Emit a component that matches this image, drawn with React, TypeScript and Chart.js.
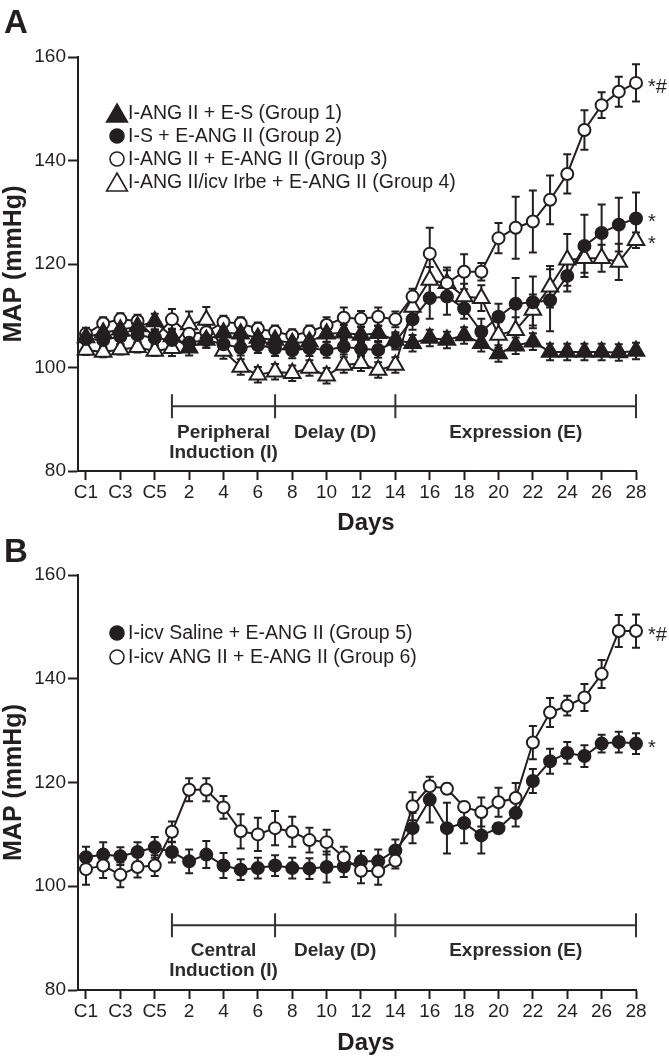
import React, { useEffect, useRef } from 'react';
import { Chart, registerables } from 'chart.js';

Chart.register(...registerables);

// ---------- data ----------
const categories = [
  'C1', 'C2', 'C3', 'C4', 'C5',
  '1', '2', '3', '4', '5', '6', '7', '8', '9', '10', '11', '12', '13', '14',
  '15', '16', '17', '18', '19', '20', '21', '22', '23', '24', '25', '26', '27', '28',
];
const xTickIndices = [0, 2, 4, 6, 8, 10, 12, 14, 16, 18, 20, 22, 24, 26, 28, 30, 32];
const yTickValues = [80, 100, 120, 140, 160];

// Panel A
const g1Label = 'I-ANG II + E-S (Group 1)';
const g1Values = [105.8, 106.7, 107.3, 107.9, 108.9, 106.0, 103.8, 105.3, 106.7, 106.5, 105.7, 105.3, 104.7, 105.0, 106.5, 106.7, 106.3, 106.6, 105.3, 104.7, 105.7, 105.3, 106.2, 104.7, 102.7, 104.2, 105.0, 103.0, 103.0, 103.0, 103.0, 102.9, 103.2];
const g1Errors = [1.5, 1.5, 1.5, 1.5, 1.5, 1.5, 1.5, 1.5, 1.5, 1.5, 1.5, 1.5, 1.5, 1.5, 1.5, 1.5, 1.5, 1.5, 1.5, 1.6, 1.6, 1.6, 1.6, 1.6, 1.6, 1.6, 1.6, 1.6, 1.6, 1.6, 1.6, 1.6, 1.6];

const g2Label = 'I-S + E-ANG II (Group 2)';
const g2Values = [105.5, 105.3, 106.0, 106.3, 105.7, 105.3, 104.8, 105.3, 104.5, 103.8, 104.3, 103.7, 103.3, 103.7, 103.4, 104.0, 103.6, 103.4, 105.0, 109.3, 113.4, 113.7, 111.4, 106.9, 109.8, 112.3, 112.6, 113.0, 117.7, 123.5, 126.0, 127.6, 128.8];
const g2Errors = [1.5, 1.5, 1.5, 1.5, 1.5, 1.5, 1.5, 1.5, 1.5, 1.5, 1.5, 1.5, 1.5, 1.5, 1.5, 1.5, 1.5, 1.5, 1.5, 2.0, 4.0, 3.5, 2.0, 2.5, 2.5, 5.0, 5.0, 6.0, 3.0, 6.0, 5.5, 5.2, 5.0];

const g3Label = 'I-ANG II + E-ANG II (Group 3)';
const g3Values = [106.5, 108.5, 109.3, 109.0, 105.8, 109.3, 106.5, 106.8, 108.8, 108.5, 107.5, 106.9, 106.2, 106.9, 108.2, 109.6, 109.4, 109.8, 109.3, 113.7, 122.0, 116.3, 118.5, 118.5, 125.0, 127.0, 128.2, 132.4, 137.4, 145.9, 150.7, 153.3, 155.0];
const g3Errors = [1.2, 1.2, 1.2, 1.2, 1.2, 2.0, 1.5, 1.5, 1.2, 1.2, 1.2, 1.2, 1.2, 1.2, 1.5, 2.0, 1.5, 1.8, 1.5, 1.5, 5.0, 3.0, 3.4, 1.7, 2.9, 6.0, 6.0, 4.7, 3.8, 3.8, 2.5, 2.9, 3.6];

const g4Label = 'I-ANG II/icv Irbe + E-ANG II (Group 4)';
const g4Values = [103.4, 103.0, 103.5, 103.9, 103.2, 103.7, 108.3, 109.2, 103.2, 100.1, 98.6, 99.2, 98.9, 99.9, 98.4, 100.5, 100.8, 99.5, 100.5, 111.7, 116.9, 116.3, 113.7, 113.4, 106.3, 107.2, 111.1, 115.6, 120.8, 121.1, 121.1, 120.4, 124.6];
const g4Errors = [1.0, 1.0, 1.0, 1.0, 1.0, 1.5, 2.5, 2.5, 1.5, 1.5, 1.5, 1.5, 1.5, 1.5, 1.5, 1.5, 1.5, 1.5, 1.5, 2.0, 2.5, 2.5, 2.5, 2.5, 2.5, 2.5, 3.0, 4.0, 5.0, 2.8, 2.6, 3.5, 1.5];

// Panel B
const g5Label = 'I-icv Saline + E-ANG II (Group 5)';
const g5Values = [105.6, 106.1, 105.8, 106.6, 107.5, 106.6, 104.8, 106.1, 104.0, 103.2, 103.5, 104.0, 103.5, 103.4, 103.7, 103.8, 104.8, 104.8, 106.9, 111.2, 116.7, 111.2, 112.2, 109.8, 111.2, 114.1, 120.3, 124.1, 125.7, 125.1, 127.5, 127.8, 127.5];
const g5Errors = [2.0, 2.4, 1.7, 1.9, 2.0, 2.0, 2.3, 2.6, 2.4, 2.0, 2.0, 2.0, 2.0, 2.0, 3.0, 2.0, 2.0, 2.3, 2.1, 2.9, 4.4, 4.9, 3.9, 3.5, 1.0, 2.6, 2.3, 2.4, 2.1, 2.1, 1.7, 2.0, 2.0];

const g6Label = 'I-icv ANG II + E-ANG II (Group 6)';
const g6Values = [103.3, 104.0, 102.2, 103.7, 104.0, 110.5, 118.6, 118.6, 115.2, 110.6, 110.0, 111.2, 110.5, 108.9, 108.5, 105.6, 103.0, 102.9, 104.9, 115.4, 119.3, 118.8, 115.3, 114.3, 116.2, 117.0, 127.7, 133.5, 134.8, 136.4, 140.9, 149.2, 149.2];
const g6Errors = [3.0, 2.4, 2.4, 2.0, 2.0, 2.0, 2.2, 2.2, 2.2, 3.3, 3.2, 3.3, 2.9, 2.4, 2.4, 2.0, 2.4, 2.6, 1.5, 2.7, 1.0, 1.0, 1.0, 2.8, 2.8, 2.9, 3.2, 2.8, 1.9, 2.6, 2.7, 3.1, 3.2];

// phases: indices of day 1, day 7, day 14, day 28
const phaseBounds = [5, 11, 18, 32];
const phaseLabelsA = [['Peripheral', 'Induction (I)'], ['Delay (D)'], ['Expression (E)']];
const phaseLabelsB = [['Central', 'Induction (I)'], ['Delay (D)'], ['Expression (E)']];

// ---------- styling ----------
const FONT = "'Liberation Sans', Arial, Helvetica, sans-serif";
const INK = '#231f20';

type Series = {
  label: string;
  values: number[];
  errors: number[];
  shape: 'triangle' | 'circle';
  filled: boolean;
};

type Panel = {
  letter: string;
  letterBaseline: number;
  height: number;
  top: number;
  xAxisHeight: number;
  drawOrder: Series[]; // first = on top
  legend: Series[];
  legendY: number;
  legendStep: number;
  phaseLabels: string[][];
  annotations: { series: Series; text: string }[];
  daysY: number;
};

const sG1: Series = { label: g1Label, values: g1Values, errors: g1Errors, shape: 'triangle', filled: true };
const sG2: Series = { label: g2Label, values: g2Values, errors: g2Errors, shape: 'circle', filled: true };
const sG3: Series = { label: g3Label, values: g3Values, errors: g3Errors, shape: 'circle', filled: false };
const sG4: Series = { label: g4Label, values: g4Values, errors: g4Errors, shape: 'triangle', filled: false };
const sG5: Series = { label: g5Label, values: g5Values, errors: g5Errors, shape: 'circle', filled: true };
const sG6: Series = { label: g6Label, values: g6Values, errors: g6Errors, shape: 'circle', filled: false };

const panelA: Panel = {
  letter: 'A', letterBaseline: 33, height: 545, top: 57, xAxisHeight: 74,
  drawOrder: [sG1, sG2, sG3, sG4],
  legend: [sG1, sG2, sG3, sG4], legendY: 113, legendStep: 23,
  phaseLabels: phaseLabelsA,
  annotations: [{ series: sG3, text: '*#' }, { series: sG2, text: '*' }, { series: sG4, text: '*' }],
  daysY: 523,
};
const panelB: Panel = {
  letter: 'B', letterBaseline: 32, height: 531, top: 45, xAxisHeight: 71,
  drawOrder: [sG6, sG5],
  legend: [sG5, sG6], legendY: 103, legendStep: 24,
  phaseLabels: phaseLabelsB,
  annotations: [{ series: sG6, text: '*#' }, { series: sG5, text: '*' }],
  daysY: 513,
};

function drawMarker(ctx: CanvasRenderingContext2D, s: Series, x: number, y: number, scale: number) {
  ctx.save();
  ctx.beginPath();
  if (s.shape === 'circle') {
    ctx.arc(x, y, 7 * scale, 0, Math.PI * 2);
  } else {
    const R = 12 * scale;
    const cy = y + R / 4;
    for (let k = 0; k < 3; k++) {
      const a = -Math.PI / 2 + (k * 2 * Math.PI) / 3;
      const px = x + Math.cos(a) * R;
      const py = cy + Math.sin(a) * R;
      if (k === 0) ctx.moveTo(px, py); else ctx.lineTo(px, py);
    }
    ctx.closePath();
  }
  ctx.fillStyle = s.filled ? INK : '#ffffff';
  ctx.fill();
  ctx.lineWidth = 1.6;
  ctx.strokeStyle = INK;
  ctx.stroke();
  ctx.restore();
}

const errorBarPlugin = {
  id: 'errorBars',
  beforeDatasetsDraw(chart: any) {
    const ctx: CanvasRenderingContext2D = chart.ctx;
    const xs = chart.scales.x;
    const ys = chart.scales.y;
    ctx.save();
    ctx.strokeStyle = INK;
    ctx.lineWidth = 2;
    chart.data.datasets.forEach((ds: any) => {
      const errs: number[] = ds.errors;
      ds.data.forEach((pt: any, j: number) => {
        const e = errs[j];
        const x = xs.getPixelForValue(pt.x);
        const yT = ys.getPixelForValue(pt.y + e);
        const yB = ys.getPixelForValue(pt.y - e);
        ctx.beginPath();
        ctx.moveTo(x, yT); ctx.lineTo(x, yB);
        ctx.moveTo(x - 4, yT); ctx.lineTo(x + 4, yT);
        ctx.moveTo(x - 4, yB); ctx.lineTo(x + 4, yB);
        ctx.stroke();
      });
    });
    ctx.restore();
  },
};

function overlayPlugin(p: Panel) {
  return {
    id: 'overlay' + p.letter,
    afterDraw(chart: any) {
      const ctx: CanvasRenderingContext2D = chart.ctx;
      const xs = chart.scales.x;
      const ys = chart.scales.y;
      ctx.save();
      // panel letter
      ctx.fillStyle = INK;
      ctx.font = `bold 33px ${FONT}`;
      ctx.textAlign = 'left';
      ctx.textBaseline = 'alphabetic';
      ctx.fillText(p.letter, 4, p.letterBaseline);

      // x axis title
      ctx.font = `bold 24px ${FONT}`;
      ctx.textAlign = 'center';
      ctx.textBaseline = 'middle';
      ctx.fillText('Days', 366, p.daysY);

      // legend
      ctx.font = `19.5px ${FONT}`;
      ctx.textAlign = 'left';
      ctx.textBaseline = 'middle';
      p.legend.forEach((s, k) => {
        const y = p.legendY + k * p.legendStep;
        drawMarker(ctx, s, 117, y, 1);
        ctx.fillStyle = INK;
        ctx.fillText(s.label, 128, y + 1);
      });

      // phase bracket
      const by = ys.getPixelForValue(92.5);
      const bx = phaseBounds.map((b) => xs.getPixelForValue(b));
      ctx.strokeStyle = '#333333';
      ctx.lineWidth = 2;
      ctx.beginPath();
      ctx.moveTo(bx[0], by); ctx.lineTo(bx[bx.length - 1], by);
      bx.forEach((x) => { ctx.moveTo(x, by - 12); ctx.lineTo(x, by + 12); });
      ctx.stroke();
      ctx.fillStyle = '#2b2b2b';
      ctx.font = `bold 19px ${FONT}`;
      ctx.textAlign = 'center';
      ctx.textBaseline = 'middle';
      p.phaseLabels.forEach((lines, k) => {
        const cx = (bx[k] + bx[k + 1]) / 2;
        lines.forEach((t, li) => ctx.fillText(t, cx, by + 26 + li * 20));
      });

      // significance marks
      ctx.fillStyle = INK;
      ctx.font = `20px ${FONT}`;
      ctx.textAlign = 'left';
      ctx.textBaseline = 'alphabetic';
      p.annotations.forEach((a) => {
        const last = a.series.values.length - 1;
        const x = xs.getPixelForValue(last) + 12;
        const y = ys.getPixelForValue(a.series.values[last]) + 10;
        ctx.fillText(a.text, x, y);
      });
      ctx.restore();
    },
  };
}

function makeConfig(p: Panel): any {
  const tickFont = { family: FONT, size: 19, lineHeight: 1 };
  return {
    type: 'line',
    data: {
      datasets: p.drawOrder.map((s) => ({
        label: s.label,
        data: s.values.map((v, i) => ({ x: i, y: v })),
        errors: s.errors,
        borderColor: INK,
        borderWidth: 2,
        pointStyle: s.shape,
        pointRadius: s.shape === 'triangle' ? 9.5 : 6,
        pointHoverRadius: s.shape === 'triangle' ? 9.5 : 6,
        pointBackgroundColor: s.filled ? INK : '#ffffff',
        pointBorderColor: INK,
        pointBorderWidth: 2,
        tension: 0,
        fill: false,
        clip: false,
      })),
    },
    options: {
      responsive: false,
      maintainAspectRatio: false,
      animation: false,
      devicePixelRatio: 1,
      events: [],
      layout: { padding: { left: 0, right: 33, top: p.top, bottom: 0 } },
      plugins: { legend: { display: false }, tooltip: { enabled: false }, title: { display: false } },
      scales: {
        x: {
          type: 'linear',
          bounds: 'data',
          min: -0.465,
          max: 32,
          afterBuildTicks: (scale: any) => {
            scale.ticks = xTickIndices.map((v) => ({ value: v }));
          },
          afterFit: (scale: any) => { scale.height = p.xAxisHeight; },
          ticks: {
            autoSkip: false,
            maxRotation: 0,
            font: tickFont,
            color: INK,
            padding: 3,
            callback: (v: number) => categories[v],
          },
          grid: { drawOnChartArea: false, drawTicks: true, tickLength: 9, tickWidth: 2, tickColor: INK },
          border: { display: true, width: 2, color: INK },
        },
        y: {
          type: 'linear',
          min: yTickValues[0],
          max: yTickValues[yTickValues.length - 1],
          afterBuildTicks: (scale: any) => {
            scale.ticks = yTickValues.map((v) => ({ value: v }));
          },
          afterFit: (scale: any) => { scale.width = 78; },
          ticks: { font: tickFont, color: INK, padding: 2 },
          grid: { drawOnChartArea: false, drawTicks: true, tickLength: 10, tickWidth: 2, tickColor: INK },
          border: { display: true, width: 2, color: INK },
          title: {
            display: true,
            text: 'MAP (mmHg)',
            color: INK,
            font: { family: FONT, size: 25, weight: 'bold', lineHeight: 1.1 },
            padding: 0,
          },
        },
      },
    },
    plugins: [errorBarPlugin, overlayPlugin(p)],
  };
}

function PanelChart({ panel, top }: { panel: Panel; top: number }) {
  const ref = useRef<HTMLCanvasElement>(null);
  useEffect(() => {
    if (!ref.current) return;
    const chart = new Chart(ref.current, makeConfig(panel));
    return () => chart.destroy();
  }, [panel]);
  return (
    <canvas
      ref={ref}
      width={669}
      height={panel.height}
      style={{ position: 'absolute', left: 0, top, width: 669, height: panel.height, display: 'block' }}
    />
  );
}

export default function App() {
  return (
    <div style={{ position: 'absolute', left: 0, top: 0, width: 669, height: 1061, background: '#ffffff' }}>
      <PanelChart panel={panelA} top={0} />
      <PanelChart panel={panelB} top={530} />
    </div>
  );
}
